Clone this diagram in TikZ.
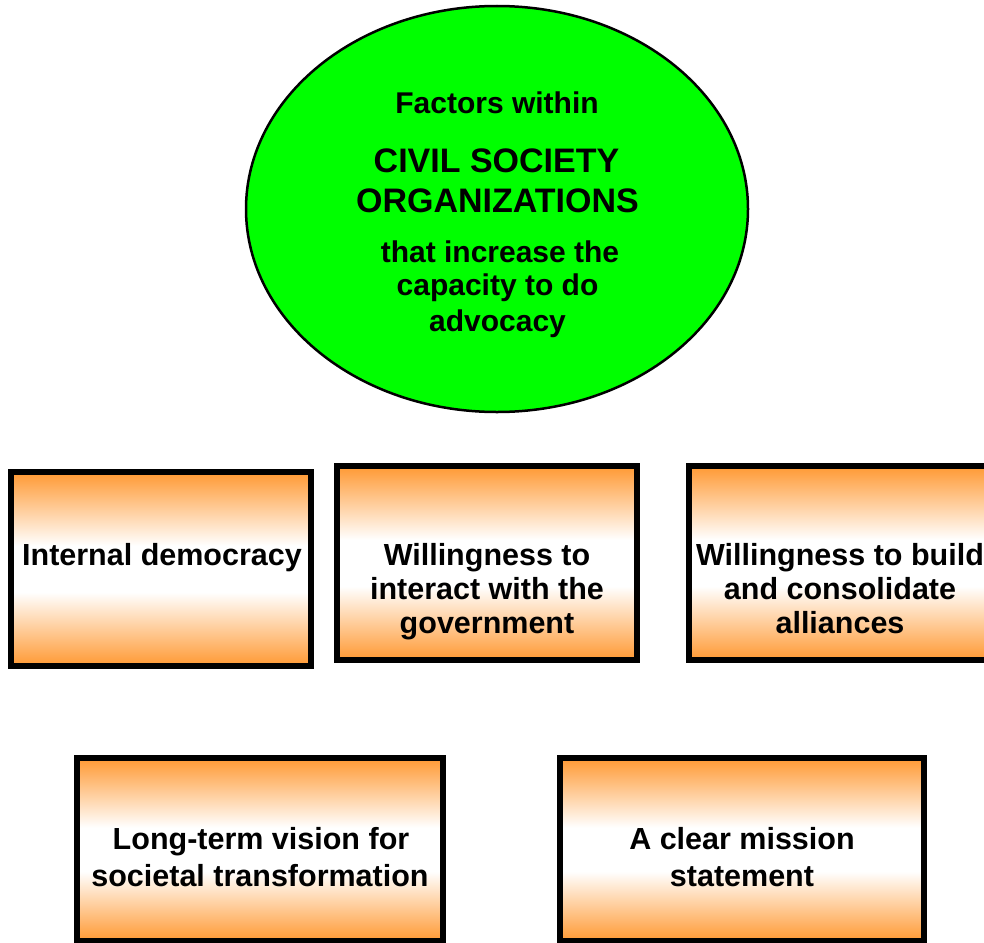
\documentclass[tikz,border=0pt]{standalone}
\usepackage{fontspec}
\setmainfont{Liberation Sans}
\usetikzlibrary{shapes.geometric}
\definecolor{boxorange}{RGB}{255,153,51}
\definecolor{ovalgreen}{RGB}{0,255,0}
\pgfdeclareverticalshading{boxshade}{100bp}{color(0bp)=(boxorange); color(25bp)=(boxorange); color(44bp)=(white); color(56bp)=(white); color(75bp)=(boxorange); color(100bp)=(boxorange)}
\begin{document}
\begin{tikzpicture}[x=1pt,y=-1pt,
  boxnode/.style={draw=black, line width=6pt, shading=boxshade, inner sep=0pt},
  txt/.style={anchor=base, inner sep=0pt, text=black, font=\fontsize{30.5}{36}\selectfont\bfseries},
  otxt/.style={anchor=base, inner sep=0pt, text=black, font=\fontsize{30}{35}\selectfont\bfseries},
  btxt/.style={anchor=base, inner sep=0pt, text=black, font=\fontsize{34}{39}\selectfont\bfseries}]
\useasboundingbox (0,0) rectangle (984,942);
\clip (0,0) rectangle (984,942);
% oval
\node[ellipse, draw=black, line width=2.5pt, fill=ovalgreen, inner sep=0pt,
      minimum width=502pt, minimum height=406pt] (oval) at (497,209) {};
\node[otxt] (o1) at (497,113.3) {Factors within};
\node[btxt] (o2) at (496.5,172.7) {CIVIL SOCIETY};
\node[btxt] (o3) at (497.5,212.7) {ORGANIZATIONS};
\node[otxt] (o4) at (500,262.7) {that increase the};
\node[otxt] (o5) at (497.5,295) {capacity to do};
\node[otxt] (o6) at (497.5,331) {advocacy};
% boxes
\node[boxnode, minimum width=300pt, minimum height=194pt] (b1) at (161,569) {};
\node[txt] (b1a) at (162,565) {Internal democracy};
\node[boxnode, minimum width=300pt, minimum height=194pt] (b2) at (487,563) {};
\node[txt] (b2a) at (487,565) {Willingness to};
\node[txt] (b2b) at (487,599) {interact with the};
\node[txt] (b2c) at (487,633) {government};
\node[boxnode, minimum width=302pt, minimum height=194pt] (b3) at (840,563) {};
\node[txt] (b3a) at (840,565) {Willingness to build};
\node[txt] (b3b) at (840,599) {and consolidate};
\node[txt] (b3c) at (840,633) {alliances};
\node[boxnode, minimum width=366pt, minimum height=183pt] (b4) at (260,849.5) {};
\node[txt] (b4a) at (261,849) {Long-term vision for};
\node[txt] (b4b) at (260,886) {societal transformation};
\node[boxnode, minimum width=364pt, minimum height=183pt] (b5) at (742,849.5) {};
\node[txt] (b5a) at (742,849) {A clear mission};
\node[txt] (b5b) at (742,886) {statement};
\end{tikzpicture}
\end{document}
